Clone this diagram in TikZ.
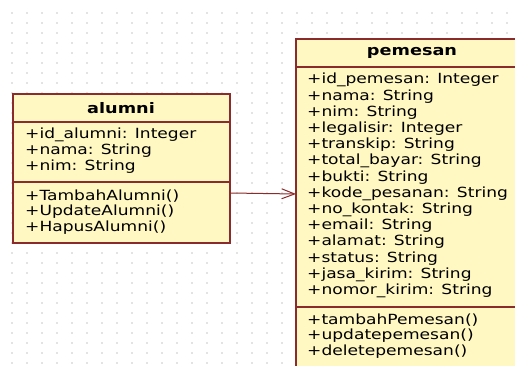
\documentclass[tikz,border=0pt]{standalone}
\usepackage{fontspec}
\setmainfont{DejaVu Sans}
\usepackage{xcolor}
\usetikzlibrary{arrows.meta}

\definecolor{umlfill}{HTML}{FFF8C2}
\definecolor{umlline}{HTML}{8B2B2B}
\definecolor{griddot}{HTML}{C8C8C8}

\newcommand{\wtext}[1]{\scalebox{1.22}[1]{#1}}

\tikzset{
  classbox/.style={draw=umlline, fill=umlfill, line width=1.2pt},
  divider/.style={draw=umlline, line width=1.2pt},
  member/.style={anchor=west, inner sep=0pt, font=\fontsize{14}{16}\selectfont},
  classname/.style={inner sep=0pt, font=\fontsize{14.5}{16}\selectfont\bfseries},
}

\begin{document}
\begin{tikzpicture}[x=1pt,y=-1pt]
        \clip (0,0) rectangle (515,366);
        \fill[white] (0,0) rectangle (515,366);

        % The dots
        \foreach \i in {0,...,33}
          \foreach \j in {0,...,35}
            \fill[griddot] (12+15*\i,13+10*\j) circle (0.9pt);

        % The alumni box
        \draw[classbox] (13,94) rectangle (230,243);
        \draw[divider] (13,122) -- (230,122);
        \draw[divider] (13,182) -- (230,182);

        % The pemesan box
        \draw[classbox] (296,39) rectangle (530,380);
        \draw[divider] (296,67) -- (530,67);
        \draw[divider] (296,307) -- (530,307);

        % The words in the alumni box
        \node[classname] (alumni) at (121,108) {\wtext{alumni}};
        \node[member] (a-id) at (25,135) {\wtext{+id\_alumni: Integer}};
        \node[member] (a-nama) at (25,151) {\wtext{+nama: String}};
        \node[member] (a-nim) at (25,167) {\wtext{+nim: String}};
        \node[member] (a-tambah) at (25,196) {\wtext{+TambahAlumni()}};
        \node[member] (a-update) at (25,212) {\wtext{+UpdateAlumni()}};
        \node[member] (a-hapus) at (25,228) {\wtext{+HapusAlumni()}};

        % The words in the pemesan box
        \node[classname] (pemesan) at (412,53) {\wtext{pemesan}};
        \foreach \txt [count=\k from 0] in {%
            +id\_pemesan: Integer, +nama: String, +nim: String,
            +legalisir: Integer, +transkip: String, +total\_bayar: String,
            +bukti: String, +kode\_pesanan: String, +no\_kontak: String,
            +email: String, +alamat: String, +status: String,
            +jasa\_kirim: String, +nomor\_kirim: String}
          \node[member] (p-attr\k) at (307,80+16.2*\k) {\wtext{\txt}};
        \node[member] (p-tambah) at (307,320) {\wtext{+tambahPemesan()}};
        \node[member] (p-update) at (307,336) {\wtext{+updatepemesan()}};
        \node[member] (p-delete) at (307,352) {\wtext{+deletepemesan()}};

        % The association
        \coordinate (alumni-out) at (230,193);
        \coordinate (pemesan-in) at (296,194);
        \draw[umlline, line width=1pt,
              -{Straight Barb[length=13pt,width=10pt]}] (alumni-out) -- (pemesan-in);

    \end{tikzpicture}
\end{document}
